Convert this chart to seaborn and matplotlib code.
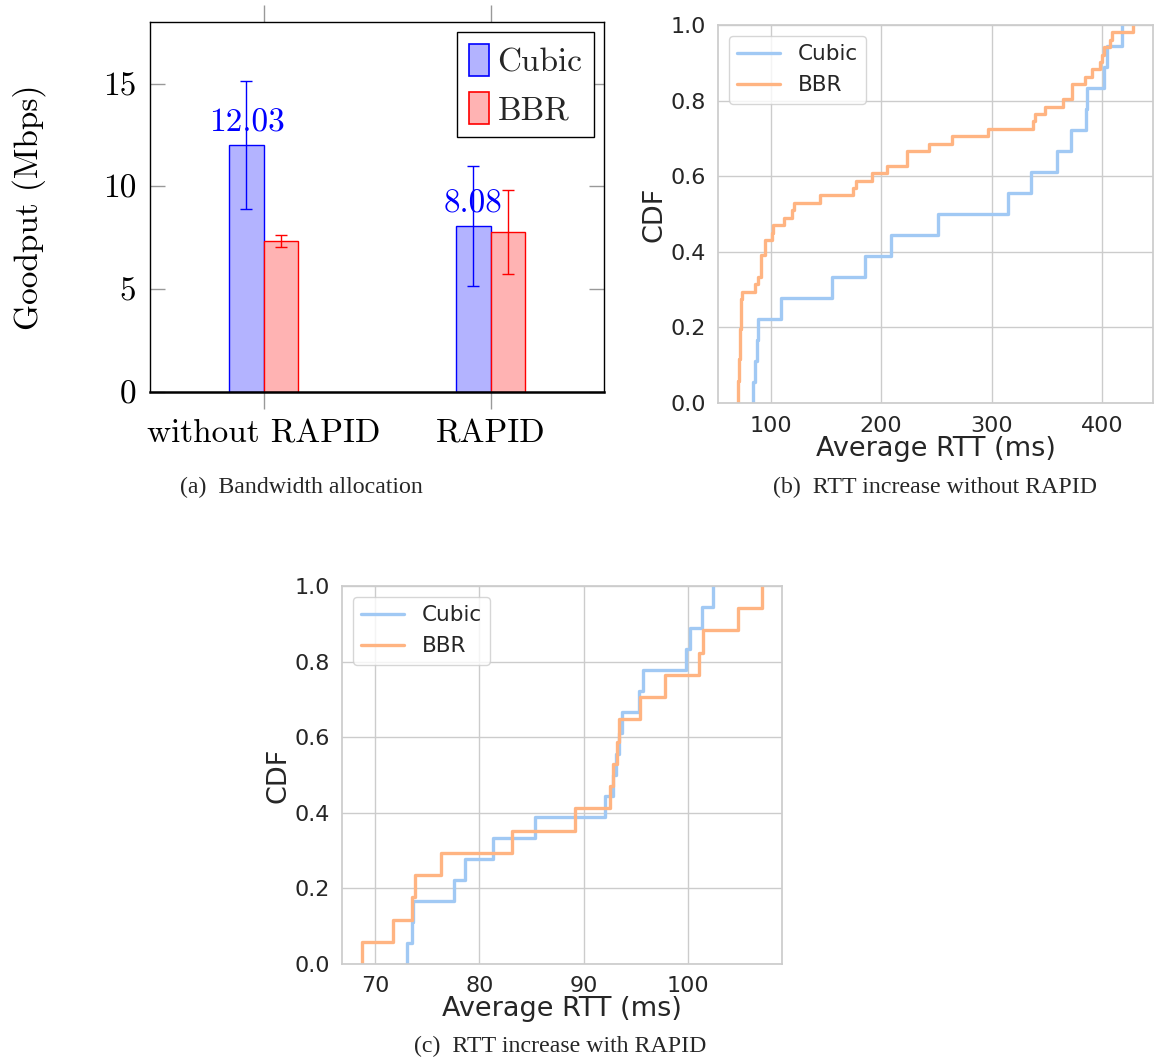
import pandas as pd
import matplotlib
matplotlib.use("Agg")
import matplotlib.pyplot as plt
from matplotlib.patches import Patch
import seaborn as sns

# (a) bandwidth allocation
settings = ["without RAPID", "RAPID"]
algos = ["Cubic", "BBR"]
cubic_goodput = [12.03, 8.08]
bbr_goodput = [7.35, 7.80]
cubic_err = [3.12, 2.93]
bbr_err = [0.30, 2.05]

# (b) average RTT per flow, without RAPID (ms)
cubic_rtt_norapid = [84.5, 86.0, 87.5, 89.0, 109.2, 155.4, 185.7, 208.9, 251.8,
                     314.9, 335.7, 359.5, 372.0, 385.4, 386.6, 401.5, 404.5, 418.2]
bbr_rtt_norapid = [70.3, 70.6, 70.9, 71.1, 71.4, 71.6, 71.9, 72.1, 72.3, 72.6,
                   72.8, 73.0, 73.2, 73.5, 73.8, 85.7, 88.7, 91.0, 91.3, 91.6,
                   94.5, 95.2, 101.0, 102.0, 111.9, 119.4, 121.4, 144.5, 174.1, 177.1,
                   192.0, 205.6, 223.3, 223.6, 242.9, 264.3, 296.2, 337.2, 339.6, 348.5,
                   364.6, 372.3, 373.0, 384.2, 390.8, 398.2, 399.7, 401.2, 407.1, 408.6,
                   428.0]

# (c) average RTT per flow, with RAPID (ms)
cubic_rtt_rapid = [73.1, 73.5, 73.6, 77.6, 78.6, 81.3, 85.3, 92.05, 92.8, 93.1,
                   93.35, 93.65, 95.3, 95.7, 99.8, 100.2, 101.3, 102.4]
bbr_rtt_rapid = [68.75, 71.7, 73.55, 73.8, 76.3, 83.1, 89.2, 92.5, 92.8, 93.2,
                 93.4, 95.4, 97.8, 101.1, 101.4, 104.8, 107.1]

sns.set_theme(style="whitegrid")
plt.rcParams["font.family"] = ["DejaVu Sans"]
fig = plt.figure(figsize=(11.55, 10.61), dpi=100)
W, H = 1155, 1061


def box(left, top, right, bottom):
    return [left / W, 1 - bottom / H, (right - left) / W, (bottom - top) / H]


# ---------- (a) ----------
ax_a = fig.add_axes(box(150, 22, 604, 392))
df_a = pd.DataFrame({
    "setting": settings * 2,
    "algo": ["Cubic"] * 2 + ["BBR"] * 2,
    "goodput": cubic_goodput + bbr_goodput,
})
fills = ["#b3b3ff", "#ffb3b3"]
edges = ["#0000ff", "#ff0000"]
sns.barplot(data=df_a, x="setting", y="goodput", hue="algo", order=settings,
            hue_order=algos, palette=fills, saturation=1, width=0.3,
            errorbar=None, legend=False, linewidth=1, ax=ax_a)

for i, (cont, ec, err) in enumerate(zip(ax_a.containers, edges, [cubic_err, bbr_err])):
    xs = [p.get_x() + p.get_width() / 2 for p in cont]
    hs = [p.get_height() for p in cont]
    for p in cont:
        p.set_edgecolor(ec)
    ax_a.errorbar(xs, hs, yerr=err, fmt="none", ecolor=ec, elinewidth=1,
                  capsize=4, capthick=1, zorder=4)
    if i == 0:
        for x, h in zip(xs, hs):
            ax_a.annotate(f"{h:.2f}", (x, h), xytext=(0, 5), textcoords="offset points",
                          ha="center", va="bottom", color="#0000ff", fontsize=24,
                          family="cmr10", zorder=5)

ax_a.grid(False)
ax_a.set_ylim(0, 18)
ax_a.set_xlim(-0.5, 1.5)
ax_a.set_yticks([0, 5, 10, 15])
ax_a.set_xlabel("")
ax_a.set_ylabel("Goodput (Mbps)", fontsize=24, family="cmr10", color="black")
ax_a.yaxis.set_label_coords(-0.228, 0.5)
for s in ax_a.spines.values():
    s.set_color("black")
    s.set_linewidth(1)
ax_a.spines["bottom"].set_linewidth(1.8)
ax_a.tick_params(axis="x", top=True, bottom=True, direction="out", length=12,
                 color="#999999", width=1, pad=8, labelsize=24, labelcolor="black")
ax_a.tick_params(axis="y", left=True, right=True, direction="in", length=11,
                 color="#999999", width=1, pad=10, labelsize=24, labelcolor="black")
for lbl in ax_a.get_xticklabels() + ax_a.get_yticklabels():
    lbl.set_fontfamily("cmr10")
handles = [Patch(facecolor=f, edgecolor=e, linewidth=1.2) for f, e in zip(fills, edges)]
leg = ax_a.legend(handles, algos, loc="upper right", prop={"family": "cmr10", "size": 24},
                  frameon=True, fancybox=False, edgecolor="black", framealpha=1,
                  handlelength=0.6, handleheight=1.1, handletextpad=0.25,
                  labelspacing=0.45, borderpad=0.35, borderaxespad=0.3)
leg.get_frame().set_linewidth(1)
cap_font = dict(ha="center", va="center", family="Liberation Serif", fontsize=17.2)
fig.text(301 / W, 1 - 487 / H, "(a)  Bandwidth allocation", **cap_font)

# ---------- (b) and (c) ----------
blue, orange = "#a1c9f4", "#ffb482"


def cdf_panel(ax, cubic, bbr, xticks):
    sns.ecdfplot(x=cubic, color=blue, linewidth=2.4, label="Cubic", ax=ax)
    sns.ecdfplot(x=bbr, color=orange, linewidth=2.4, label="BBR", ax=ax)
    ax.set_ylim(0, 1)
    ax.set_xticks(xticks)
    ax.set_yticks([0, 0.2, 0.4, 0.6, 0.8, 1.0])
    ax.set_xlabel("Average RTT (ms)", fontsize=19.5, labelpad=0)
    ax.set_ylabel("CDF", fontsize=19.5, labelpad=2)
    ax.tick_params(labelsize=16, pad=3)
    ax.legend(loc="upper left", fontsize=15.5)


ax_b = fig.add_axes(box(718, 25, 1153, 403))
cdf_panel(ax_b, cubic_rtt_norapid, bbr_rtt_norapid, [100, 200, 300, 400])
fig.text(935 / W, 1 - 487 / H, "(b)  RTT increase without RAPID", **cap_font)

ax_c = fig.add_axes(box(342, 586, 782, 964))
cdf_panel(ax_c, cubic_rtt_rapid, bbr_rtt_rapid, [70, 80, 90, 100])
fig.text(560 / W, 1 - 1046 / H, "(c)  RTT increase with RAPID", **cap_font)

fig.savefig("out.png", dpi=100)
